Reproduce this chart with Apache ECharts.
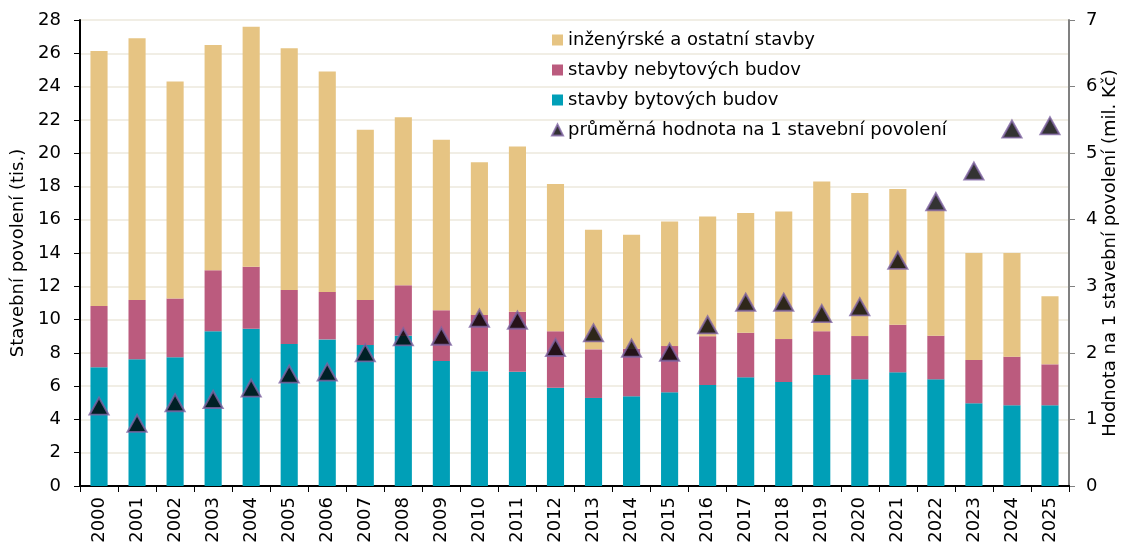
<!DOCTYPE html>
<html>
<head>
<meta charset="utf-8">
<script src="https://cdn.jsdelivr.net/npm/echarts@6/dist/echarts.min.js"></script>
<style>html,body{margin:0;padding:0;background:#fff}#c{width:1125px;height:547px}</style>
</head>
<body>
<div id="c"></div>
<script>
const years = ['2000','2001','2002','2003','2004','2005','2006','2007','2008','2009','2010','2011','2012','2013','2014','2015','2016','2017','2018','2019','2020','2021','2022','2023','2024','2025'];
const bytove = [7.13,7.61,7.73,9.30,9.45,8.53,8.81,8.47,9.03,7.51,6.89,6.87,5.91,5.29,5.39,5.63,6.07,6.53,6.25,6.67,6.41,6.83,6.41,4.97,4.85,4.85];
const nebytove = [3.69,3.57,3.53,3.66,3.73,3.25,2.85,2.71,3.03,3.05,3.39,3.60,3.39,2.92,2.86,2.78,2.93,2.68,2.58,2.63,2.60,2.86,2.62,2.60,2.92,2.46];
const inzenyrske = [15.32,15.72,13.04,13.54,14.42,14.52,13.24,10.22,10.09,10.24,9.17,9.93,8.85,7.19,6.85,7.49,7.20,7.19,7.67,9.00,8.59,8.16,7.57,6.43,6.23,4.09];
const prumer = [1.20,0.94,1.25,1.30,1.47,1.68,1.71,2.00,2.24,2.25,2.52,2.49,2.08,2.30,2.07,2.01,2.42,2.76,2.76,2.59,2.69,3.39,4.27,4.73,5.36,5.41];
const leftTicks = {min:0, max:28, interval:2};
const rightTicks = {min:0, max:7, interval:1};

const font = 'DejaVu Sans, Liberation Sans, Arial, sans-serif';
const fs = 18;
const chart = echarts.init(document.getElementById('c'), null, {renderer:'canvas'});
chart.setOption({
  animation:false,
  backgroundColor:'#fff',
  textStyle:{fontFamily:font},
  grid:{left:80, right:56, top:20, bottom:61, containLabel:false, outerBoundsMode:'none'},
  legend:{
    orient:'vertical', left:546, top:26, itemGap:12, itemWidth:11, itemHeight:11,
    textStyle:{fontSize:fs, color:'#000', fontFamily:font},
    data:[
      {name:'inženýrské a ostatní stavby', icon:'rect'},
      {name:'stavby nebytových budov', icon:'rect'},
      {name:'stavby bytových budov', icon:'rect'},
      {name:'průměrná hodnota na 1 stavební povolení', icon:'triangle', itemStyle:{color:'#000', borderColor:'#8064A2', borderWidth:2}}
    ]
  },
  xAxis:[{
    type:'category', data:years, boundaryGap:true,
    axisLine:{lineStyle:{color:'#000', width:2}},
    axisTick:{show:true, alignWithLabel:false, length:6, lineStyle:{color:'#000', width:1}},
    axisLabel:{rotate:90, fontSize:fs, color:'#000', margin:11, fontFamily:font}
  },{
    type:'category', data:years, position:'top',
    axisLine:{lineStyle:{color:'#000', width:2}},
    axisTick:{show:false}, axisLabel:{show:false}
  }],
  yAxis:[{
    type:'value', min:leftTicks.min, max:leftTicks.max, interval:leftTicks.interval,
    name:'Stavební povolení (tis.)', nameLocation:'middle', nameGap:53, nameMoveOverlap:false,
    nameTextStyle:{fontSize:fs, color:'#000', fontFamily:font},
    axisLine:{show:true, lineStyle:{color:'#000', width:2}},
    axisTick:{show:true, length:6, lineStyle:{color:'#000'}},
    axisLabel:{fontSize:fs, color:'#000', margin:19, fontFamily:font, align:'right'},
    splitLine:{show:true, lineStyle:{color:'#ECE9DD', width:1.5}}
  },{
    type:'value', min:rightTicks.min, max:rightTicks.max, interval:rightTicks.interval,
    name:'Hodnota na 1 stavební povolení (mil. Kč)', nameLocation:'middle', nameGap:32, nameMoveOverlap:false,
    nameRotate:90, nameTextStyle:{fontSize:fs, color:'#000', fontFamily:font},
    axisLine:{show:true, lineStyle:{color:'#808080', width:2}},
    axisTick:{show:true, length:6, lineStyle:{color:'#808080'}},
    axisLabel:{fontSize:fs, color:'#000', margin:17, fontFamily:font, align:'left'},
    splitLine:{show:false}
  }],
  series:[
    {name:'stavby bytových budov', type:'bar', stack:'s', data:bytove, barWidth:'45%', itemStyle:{color:'#009FB7'}},
    {name:'stavby nebytových budov', type:'bar', stack:'s', data:nebytove, itemStyle:{color:'#BB5B7E'}},
    {name:'inženýrské a ostatní stavby', type:'bar', stack:'s', data:inzenyrske, itemStyle:{color:'#E6C483'}},
    {name:'průměrná hodnota na 1 stavební povolení', type:'scatter', yAxisIndex:1, data:prumer,
     symbol:'triangle', symbolSize:[19,17], z:10,
     itemStyle:{color:'#000', borderColor:'#8064A2', borderWidth:2}}
  ]
});
</script>
</body>
</html>
